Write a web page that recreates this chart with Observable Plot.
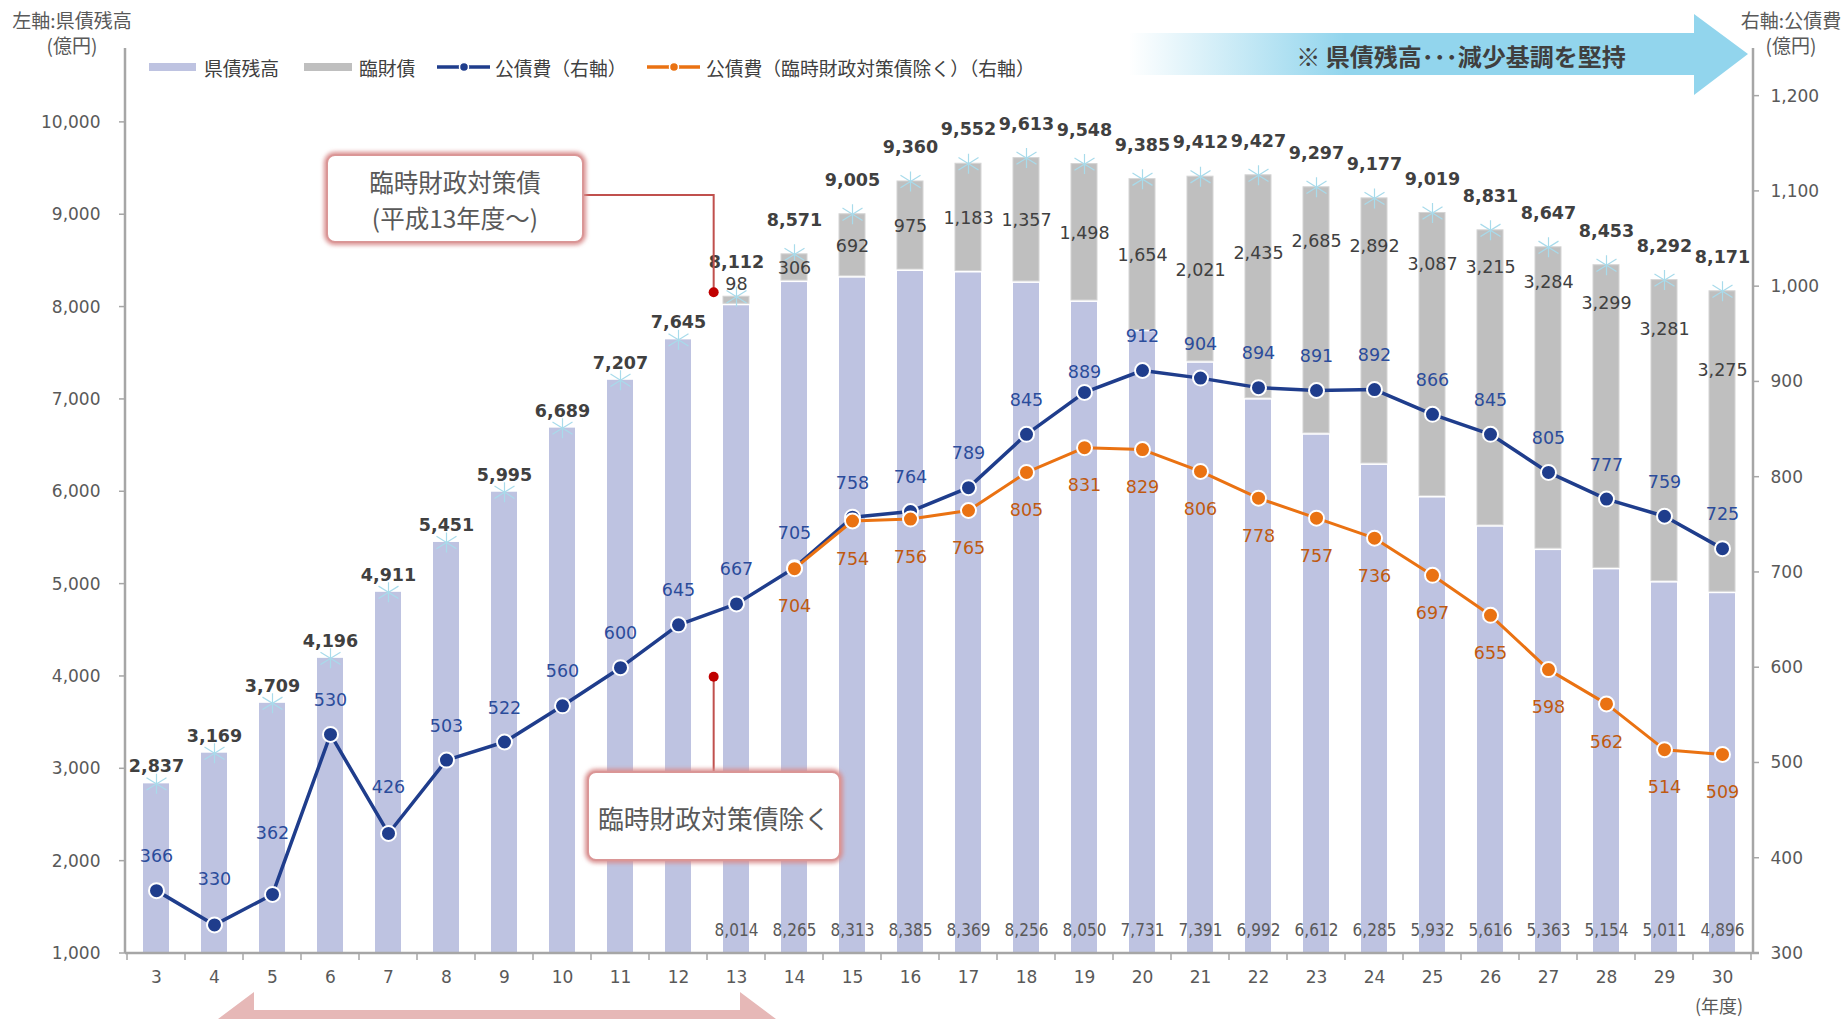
<!DOCTYPE html>
<html><head><meta charset="utf-8">
<script src="https://cdn.jsdelivr.net/npm/d3@7"></script>
<script src="https://cdn.jsdelivr.net/npm/@observablehq/plot@0.6"></script>
<style>
html,body{margin:0;padding:0;background:#fff;}
#chart{position:relative;width:1844px;height:1019px;overflow:hidden;}
</style></head><body><div id="chart"></div>
<script>
// ---------------- data ----------------
const years = ["3","4","5","6","7","8","9","10","11","12","13","14","15","16","17","18","19","20","21","22","23","24","25","26","27","28","29","30"];
const kensaiBase = [2837,3169,3709,4196,4911,5451,5995,6689,7207,7645,8014,8265,8313,8385,8369,8256,8050,7731,7391,6992,6612,6285,5932,5616,5363,5154,5011,4896];
const rinzai = [null,null,null,null,null,null,null,null,null,null,98,306,692,975,1183,1357,1498,1654,2021,2435,2685,2892,3087,3215,3284,3299,3281,3275];
const totals = [2837,3169,3709,4196,4911,5451,5995,6689,7207,7645,8112,8571,9005,9360,9552,9613,9548,9385,9412,9427,9297,9177,9019,8831,8647,8453,8292,8171];
const kosaihi = [366,330,362,530,426,503,522,560,600,645,667,705,758,764,789,845,889,912,904,894,891,892,866,845,805,777,759,725];
const kosaihiEx = [null,null,null,null,null,null,null,null,null,null,null,704,754,756,765,805,831,829,806,778,757,736,697,655,598,562,514,509];
const leftTicks = [1000,2000,3000,4000,5000,6000,7000,8000,9000,10000];
const rightTicks = [300,400,500,600,700,800,900,1000,1100,1200];

// ---------------- layout ----------------
const W = 1844, H = 1019, mL = 125, mR = 91, mT = 48, mB = 66;
const leftDomain = [1000, 10800], rightDomain = [300, 1250];
const toL = d3.scaleLinear(rightDomain, leftDomain);
const pxPerL = (H - mT - mB) / (leftDomain[1] - leftDomain[0]);
const fmt = d3.format(",");
const JP = "'Noto Sans CJK JP','Noto Sans',sans-serif";
const NUM = "'DejaVu Sans',Verdana,sans-serif";
const NAVY = "#1f3d8c", ORANGE = "#ea7212";

const rows = years.map((year, i) => ({year, base: kensaiBase[i], rin: rinzai[i], total: totals[i], k: kosaihi[i], kx: kosaihiEx[i]}));
const rinRows = rows.filter(d => d.rin != null);
const exRows = rows.filter(d => d.kx != null);

// label placement (pixel offsets, as moved by hand in the original)
const totalLift = d => (+d.year >= 13 ? 34 : 17);
const blueLift = {"4": 46, "5": 61, "7": 46, "19": 20};
const rinBelowTop = {"22": 78, "23": 54, "24": 48, "25": 51, "26": 37, "27": 35, "28": 38, "29": 49, "30": 79};
function rinLabelY(d) {
  if (d.year === "13") return d.total + 12 / pxPerL;
  if (rinBelowTop[d.year] != null) return d.total - rinBelowTop[d.year] / pxPerL;
  return (d.base + d.total) / 2;
}

const star = {draw(ctx, size) {
  const r = Math.sqrt(size / Math.PI), a = r * 0.62;
  ctx.moveTo(0, -r); ctx.lineTo(0, r);
  ctx.moveTo(-r, -a); ctx.lineTo(r, a);
  ctx.moveTo(-r, a); ctx.lineTo(r, -a);
}};

const chart = Plot.plot({
  width: W, height: H,
  marginLeft: mL, marginRight: mR, marginTop: mT, marginBottom: mB,
  style: {fontFamily: NUM, fontSize: "17px", color: "#595959", background: "transparent", overflow: "visible"},
  x: {type: "band", domain: years, paddingInner: 0.545, paddingOuter: 0.2725, label: null},
  y: {domain: leftDomain, label: null},
  marks: [
    Plot.barY(rows, {x: "year", y1: leftDomain[0], y2: "base", fill: "#bec3e1"}),
    Plot.barY(rinRows, {x: "year", y1: "base", y2: "total", fill: "#bfbfbf", stroke: "#d4d4d4", strokeWidth: 1, insetBottom: 2}),
    Plot.dot(rows, {x: "year", y: "total", symbol: star, r: 10, stroke: "#a8dbeb", strokeWidth: 1.2, fill: "none"}),
    Plot.text(rows, {x: "year", y: d => d.total + totalLift(d) / pxPerL, text: d => fmt(d.total), fontWeight: "bold", fontSize: 17.5, fill: "#404040"}),
    Plot.text(rinRows, {x: "year", y: rinLabelY, text: d => fmt(d.rin), fontSize: 17.5, fill: "#404040"}),
    Plot.text(rinRows, {x: "year", y: leftDomain[0], dy: -23, text: d => fmt(d.base), fontSize: 17, fontFamily: "'DejaVu Sans Condensed','DejaVu Sans',sans-serif", fill: "#595959"}),
    Plot.line(rows, {x: "year", y: d => toL(d.k), stroke: NAVY, strokeWidth: 3.5}),
    Plot.dot(rows, {x: "year", y: d => toL(d.k), r: 7.5, fill: NAVY, stroke: "#fff", strokeWidth: 2}),
    Plot.line(exRows, {x: "year", y: d => toL(d.kx), stroke: ORANGE, strokeWidth: 3}),
    Plot.dot(exRows, {x: "year", y: d => toL(d.kx), r: 7.5, fill: ORANGE, stroke: "#fff", strokeWidth: 2}),
    Plot.text(rows, {x: "year", y: d => toL(d.k) + (blueLift[d.year] ?? 34) / pxPerL, text: d => fmt(d.k), fontSize: 17.5, fill: "#2b4c9b"}),
    Plot.text(exRows, {x: "year", y: d => toL(d.kx) - 38 / pxPerL, text: d => fmt(d.kx), fontSize: 17.5, fill: "#c05a10"}),
    Plot.axisY(leftTicks, {anchor: "left", tickSize: 0, tickPadding: 25, tickFormat: fmt, fontSize: 17, color: "#595959", label: null}),
    Plot.axisY(rightTicks.map(v => toL(v)), {anchor: "right", tickSize: 0, tickPadding: 17, tickFormat: v => fmt(Math.round(toL.invert(v))), fontSize: 17, color: "#595959", label: null}),
    Plot.axisX({tickSize: 0, tickPadding: 17, fontSize: 17, color: "#595959", label: null})
  ]
});
document.getElementById("chart").appendChild(chart);

// ---------------- decorations drawn with the plot's scales ----------------
const xs = chart.scale("x"), ys = chart.scale("y");
const svg = d3.select(chart);
const fL = mL, fR = W - mR, fT = mT, fB = H - mB;
const cx = y => xs.apply(y) + xs.bandwidth / 2;
const gap = (xs.step - xs.bandwidth) / 2;

const defs = svg.append("defs");
const grad = defs.append("linearGradient").attr("id", "arrowGrad").attr("gradientUnits", "userSpaceOnUse")
  .attr("x1", 1129).attr("x2", 1345).attr("y1", 0).attr("y2", 0);
grad.append("stop").attr("offset", 0).attr("stop-color", "#92d5ed").attr("stop-opacity", 0);
grad.append("stop").attr("offset", 1).attr("stop-color", "#92d5ed").attr("stop-opacity", 1);
defs.append("filter").attr("id", "glow").attr("x", "-20%").attr("y", "-30%").attr("width", "140%").attr("height", "160%")
  .append("feGaussianBlur").attr("stdDeviation", 2.2);

// axes lines & ticks
const ax = svg.append("g").attr("stroke", "#a6a6a6").attr("fill", "none");
ax.append("line").attr("x1", fL).attr("x2", fL).attr("y1", fT).attr("y2", fB).attr("stroke-width", 2.5);
ax.append("line").attr("x1", fR).attr("x2", fR).attr("y1", fT).attr("y2", fB).attr("stroke-width", 2.5);
ax.append("line").attr("x1", fL).attr("x2", fR + 6).attr("y1", fB).attr("y2", fB).attr("stroke-width", 2.5);
leftTicks.forEach(v => ax.append("line").attr("x1", fL - 6).attr("x2", fL).attr("y1", ys.apply(v)).attr("y2", ys.apply(v)).attr("stroke-width", 1.5));
rightTicks.forEach(v => ax.append("line").attr("x1", fR).attr("x2", fR + 6).attr("y1", ys.apply(toL(v))).attr("y2", ys.apply(toL(v))).attr("stroke-width", 1.5));
years.forEach(y => {
  const bx = xs.apply(y) - gap;
  ax.append("line").attr("x1", bx).attr("x2", bx).attr("y1", fB).attr("y2", fB + 7).attr("stroke-width", 1.5);
});
{
  const bx = xs.apply(years[years.length - 1]) + xs.bandwidth + gap;
  ax.append("line").attr("x1", bx).attr("x2", bx).attr("y1", fB).attr("y2", fB + 7).attr("stroke-width", 1.5);
}

// two-line text helper (one text element, two lines)
function twoLines(g, x, y1, y2, a, b) {
  const t = g.append("text").attr("text-anchor", "middle");
  t.append("tspan").attr("x", x).attr("y", y1).attr("dominant-baseline", "central").text(a);
  t.append("tspan").attr("x", x).attr("y", y2).attr("dominant-baseline", "central").text(b);
  return t;
}

// axis titles
const tt = svg.append("g").attr("font-family", JP).attr("font-size", 19).attr("fill", "#595959");
twoLines(tt, 72, 19, 44, "左軸:県債残高", "(億円)");
twoLines(tt, 1791, 19, 44, "右軸:公債費", "(億円)");
tt.append("text").attr("x", cx("30") - 3).attr("y", 1005).attr("text-anchor", "middle").attr("font-size", 18)
  .attr("dominant-baseline", "central").text("(年度)");

// legend
const lg = svg.append("g").attr("font-family", JP).attr("font-size", 18.8).attr("fill", "#404040").attr("text-anchor", "start");
const ly = 67;
lg.append("rect").attr("x", 149).attr("y", ly - 4).attr("width", 47).attr("height", 8).attr("fill", "#bec3e1");
lg.append("text").attr("x", 204).attr("y", ly).attr("dominant-baseline", "central").text("県債残高");
lg.append("rect").attr("x", 304).attr("y", ly - 4).attr("width", 48).attr("height", 8).attr("fill", "#bfbfbf");
lg.append("text").attr("x", 359).attr("y", ly).attr("dominant-baseline", "central").text("臨財債");
lg.append("line").attr("x1", 437).attr("x2", 490).attr("y1", ly).attr("y2", ly).attr("stroke", NAVY).attr("stroke-width", 3.5);
lg.append("circle").attr("cx", 464).attr("cy", ly).attr("r", 4.5).attr("fill", NAVY).attr("stroke", "#fff").attr("stroke-width", 1.5);
lg.append("text").attr("x", 495).attr("y", ly).attr("dominant-baseline", "central").text("公債費（右軸）");
lg.append("line").attr("x1", 647).attr("x2", 700).attr("y1", ly).attr("y2", ly).attr("stroke", ORANGE).attr("stroke-width", 3.5);
lg.append("circle").attr("cx", 674).attr("cy", ly).attr("r", 4.5).attr("fill", ORANGE).attr("stroke", "#fff").attr("stroke-width", 1.5);
lg.append("text").attr("x", 706).attr("y", ly).attr("dominant-baseline", "central").text("公債費（臨時財政対策債除く）（右軸）");

// top arrow
svg.append("path")
  .attr("d", "M1129,33 L1694,33 L1694,14 L1748,54 L1694,95 L1694,75 L1129,75 Z")
  .attr("fill", "url(#arrowGrad)");
svg.append("text").attr("x", 1461).attr("y", 55).attr("text-anchor", "middle").attr("dominant-baseline", "central")
  .attr("font-family", JP).attr("font-weight", 700).attr("font-size", 24).attr("fill", "#3f3f3f")
  .text("※ 県債残高･･･減少基調を堅持");

// bottom pink arrow (cut by the picture's lower edge)
const pl = cx("5") - 18, pr = cx("13") + 4;
svg.append("path")
  .attr("d", `M${pl},992 L${pl},1010 L${pr},1010 L${pr},992 L${pr + 64},1040 L${pl - 64},1040 Z`)
  .attr("fill", "#e6b8b7");

// callouts
const calloutX = cx("13") - 0.385 * xs.step;
function box(x0, y0, w, h) {
  svg.append("rect").attr("x", x0).attr("y", y0).attr("width", w).attr("height", h).attr("rx", 8)
    .attr("fill", "none").attr("stroke", "#d98e8e").attr("stroke-width", 6).attr("filter", "url(#glow)");
  svg.append("rect").attr("x", x0).attr("y", y0).attr("width", w).attr("height", h).attr("rx", 8)
    .attr("fill", "#fff").attr("stroke", "#da9696").attr("stroke-width", 2);
}
// callout 1
const dot1y = ys.apply(totals[years.indexOf("13")]) - 4;
svg.append("path").attr("d", `M583,195 L${calloutX},195 L${calloutX},${dot1y}`)
  .attr("fill", "none").attr("stroke", "#c0504d").attr("stroke-width", 2);
svg.append("circle").attr("cx", calloutX).attr("cy", dot1y).attr("r", 5).attr("fill", "#c00000");
box(327, 155, 256, 87);
const c1 = svg.append("g").attr("font-family", JP).attr("font-size", 24.5).attr("fill", "#595959");
twoLines(c1, 455, 181, 217, "臨時財政対策債", "(平成13年度～)");
// callout 2
const dot2y = ys.apply(toL(590));
svg.append("line").attr("x1", calloutX).attr("x2", calloutX).attr("y1", dot2y).attr("y2", 772)
  .attr("stroke", "#c0504d").attr("stroke-width", 2);
svg.append("circle").attr("cx", calloutX).attr("cy", dot2y).attr("r", 5).attr("fill", "#c00000");
box(588, 772, 252, 88);
svg.append("text").attr("x", 714).attr("y", 817).attr("text-anchor", "middle").attr("dominant-baseline", "central")
  .attr("font-family", JP).attr("font-size", 25.8).attr("fill", "#595959").text("臨時財政対策債除く");
</script></body></html>
